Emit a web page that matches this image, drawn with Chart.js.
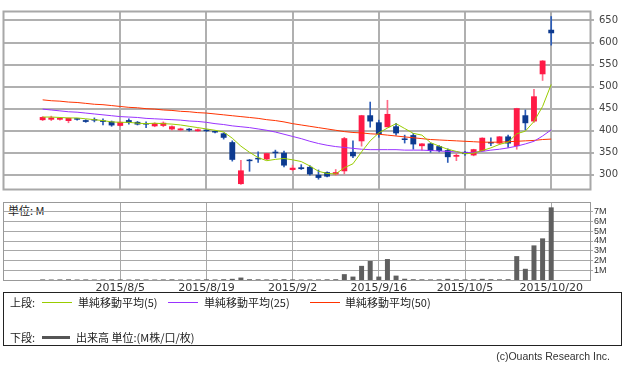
<!DOCTYPE html>
<html lang="ja">
<head>
<meta charset="utf-8">
<title>株価チャート</title>
<script src="https://cdn.jsdelivr.net/npm/chart.js@4.4.1/dist/chart.umd.min.js"></script>
<style>
  body { margin: 0; width: 630px; height: 366px; background: #fff; position: relative; overflow: hidden;
         font-family: "Noto Sans CJK JP", sans-serif; color: #222; }
  canvas { position: absolute; left: 0; }
  #price { top: 0; }
  #volume { top: 195px; }
  .t { position: absolute; font-size: 11px; line-height: 12px; white-space: nowrap; }
  .ln { position: absolute; height: 1px; }
  .box { position: absolute; left: 3px; top: 292px; width: 619px; height: 54px; border: 1px solid #222; box-sizing: border-box; }
  .copy { position: absolute; right: 20px; top: 350px; font: 10.5px "Liberation Sans", sans-serif; color: #333; }
</style>
</head>
<body>
<div class="t" style="left:8px;top:204px;">単位: M</div>
<canvas id="price" width="630" height="200"></canvas>
<canvas id="volume" width="630" height="100"></canvas>

<div class="box"></div>
<div class="t" style="left:10px;top:296px;">上段:</div>
<div class="ln" style="left:42px;top:302px;width:30px;background:#99cc00;"></div>
<div class="t" style="left:78px;top:296px;">単純移動平均(5)</div>
<div class="ln" style="left:168px;top:302px;width:30px;background:#9933ff;"></div>
<div class="t" style="left:204px;top:296px;">単純移動平均(25)</div>
<div class="ln" style="left:310px;top:302px;width:30px;background:#ff3300;"></div>
<div class="t" style="left:345px;top:296px;">単純移動平均(50)</div>
<div class="t" style="left:10px;top:331px;">下段:</div>
<div class="ln" style="left:42px;top:336px;width:28px;height:3px;background:#555;"></div>
<div class="t" style="left:76px;top:331px;">出来高 単位:(M株/口/枚)</div>
<div class="copy">(c)Ouants Research Inc.</div>

<script>
const dates = ['2015/7/23','2015/7/24','2015/7/27','2015/7/28','2015/7/29','2015/7/30','2015/7/31','2015/8/3','2015/8/4','2015/8/5',
  '2015/8/6','2015/8/7','2015/8/10','2015/8/11','2015/8/12','2015/8/13','2015/8/14','2015/8/17','2015/8/18','2015/8/19',
  '2015/8/20','2015/8/21','2015/8/24','2015/8/25','2015/8/26','2015/8/27','2015/8/28','2015/8/31','2015/9/1','2015/9/2',
  '2015/9/3','2015/9/4','2015/9/7','2015/9/8','2015/9/9','2015/9/10','2015/9/11','2015/9/14','2015/9/15','2015/9/16',
  '2015/9/17','2015/9/18','2015/9/24','2015/9/25','2015/9/28','2015/9/29','2015/9/30','2015/10/1','2015/10/2','2015/10/5',
  '2015/10/6','2015/10/7','2015/10/8','2015/10/9','2015/10/13','2015/10/14','2015/10/15','2015/10/16','2015/10/19','2015/10/20'];

const opens  = [424,425,425,422,426,424,426,422,421,411, 424,420,417,410,411,403,401,402,399,401,
                399,394,374,279,334,336,335,352,350,311, 317,318,300,306,301,308,352,376,435,419,
                408,410,381,390,365,371,365,356,341,352, 344,354,374,371,387,365,435,421,528,629];
const highs  = [432,433,430,429,427,425,429,427,422,421, 427,421,420,418,420,411,406,405,404,402,
                400,395,377,333,335,352,349,356,354,322, 323,321,311,307,312,385,377,435,465,424,
                469,417,390,394,371,372,366,359,348,353, 358,384,384,387,390,451,447,494,559,659];
const lows   = [423,423,424,418,424,419,420,413,410,410, 415,413,407,409,409,401,400,399,398,398,
                395,381,331,278,308,328,334,339,318,309, 312,299,290,295,299,302,339,365,408,385,
                408,390,372,358,356,351,352,328,332,344, 343,353,366,369,362,358,402,419,514,594];
const closes = [431,430,429,429,425,420,423,420,412,420, 418,414,414,417,418,410,405,401,403,399,
                396,384,334,310,331,335,349,349,321,316, 313,301,293,296,306,383,342,435,421,392,
                438,394,379,369,371,354,354,340,345,347, 358,384,371,387,371,451,417,478,559,621];

const ma5  = [431,431,430,429,429,427,425,423,420,419, 419,417,416,417,416,415,413,410,407,404,
              401,397,383,365,351,339,332,335,337,334, 330,320,308,303,302,316,325,352,377,395,
              406,416,405,394,390,373,365,358,353,348, 349,355,361,369,374,393,399,421,455,505];
const ma25 = [449,447,445,443,442,440,438,436,434,432, 431,430,428,427,426,425,424,422,421,419,
              416,414,411,409,407,404,401,397,392,387, 382,376,371,367,364,362,360,358,357,357,
              357,357,356,356,356,355,354,353,352,350, 351,353,356,358,361,365,370,376,388,402];
const ma50 = [470,468,467,465,464,462,460,459,457,455, 453,452,450,449,447,446,444,443,441,440,
              438,436,434,432,430,428,425,423,420,416, 413,410,407,404,401,398,396,395,393,392,
              390,388,386,384,382,380,379,378,377,376, 375,374,374,374,375,376,377,378,380,381];

// 出来高 (百万)
const volume = [0.06,0.05,0.06,0.07,0.05,0.06,0.05,0.06,0.07,0.06, 0.05,0.06,0.06,0.05,0.06,0.07,0.05,0.06,0.06,0.07,
                0.06,0.08,0.12,0.25,0.08,0.07,0.06,0.07,0.08,0.06, 0.05,0.06,0.06,0.07,0.08,0.60,0.35,1.45,1.95,0.35,
                2.15,0.45,0.13,0.08,0.07,0.06,0.07,0.12,0.07,0.06, 0.07,0.12,0.08,0.07,0.08,2.45,1.15,3.55,4.27,7.45];

const tickLabels = ['2015/8/5','2015/8/19','2015/9/2','2015/9/16','2015/10/5','2015/10/20'];
const priceTicks = [300,350,400,450,500,550,600,650];
const volTicks = [1,2,3,4,5,6,7];

const tickIdx = tickLabels.map(t => dates.indexOf(t));
const isUp = closes.map((c, i) => c >= opens[i]);
const pts = arr => arr.map((v, i) => ({ x: i, y: v }));

const frame = {
  id: 'frame',
  afterDraw(chart, args, opts) {
    const { ctx, chartArea: a } = chart;
    ctx.save();
    ctx.strokeStyle = opts.color;
    ctx.lineWidth = opts.width;
    ctx.strokeRect(Math.round(a.left) + 0.5, Math.round(a.top) + 0.5, Math.round(a.right - a.left), Math.round(a.bottom - a.top));
    ctx.restore();
  }
};

const xAxis = (showLabels) => ({
  type: 'linear',
  min: -4.6,
  max: 63.5,
  offset: false,
  afterBuildTicks: ax => { ax.ticks = tickIdx.map(v => ({ value: v })); },
  grid: { offset: false, drawTicks: false, color: showLabels ? '#a8a8a8' : '#b0b0b0', lineWidth: showLabels ? 1 : 2 },
  border: { display: false },
  ticks: {
    display: showLabels,
    autoSkip: false,
    maxRotation: 0,
    padding: 2,
    color: '#333',
    font: { family: 'DejaVu Sans', size: 11 },
    callback: v => dates[v]
  },
  afterFit: s => { s.height = showLabels ? 15 : 0; }
});

Chart.defaults.animation = false;
Chart.defaults.events = [];

new Chart(document.getElementById('price'), {
  type: 'bar',
  data: {
    datasets: [
      { type: 'line', data: pts(ma5),  borderColor: '#99cc00', borderWidth: 1, pointRadius: 0, tension: 0, order: 0 },
      { type: 'line', data: pts(ma25), borderColor: '#9933ff', borderWidth: 1, pointRadius: 0, tension: 0, order: 0 },
      { type: 'line', data: pts(ma50), borderColor: '#ff3300', borderWidth: 1, pointRadius: 0, tension: 0, order: 0 },
      {
        data: dates.map((d, i) => ({ x: i, y: [opens[i], closes[i]] })),
        backgroundColor: isUp.map(u => u ? '#ff1a46' : '#0d3a8f'),
        borderWidth: 0, grouped: false, categoryPercentage: 1, barPercentage: 0.68, minBarLength: 1.5, order: 1
      },
      {
        data: dates.map((d, i) => ({ x: i, y: [lows[i], highs[i]] })),
        backgroundColor: isUp.map(u => u ? '#ff6a86' : '#2b5cb8'),
        borderWidth: 0, grouped: false, categoryPercentage: 1, barPercentage: 1, maxBarThickness: 1, order: 2
      }
    ]
  },
  options: {
    responsive: false,
    devicePixelRatio: 1,
    layout: { padding: { left: 3, top: 4, right: 0, bottom: 8 } },
    plugins: { legend: { display: false }, tooltip: { enabled: false }, frame: { color: '#a8a8a8', width: 2 } },
    scales: {
      x: xAxis(false),
      y: {
        position: 'right',
        min: 267.8,
        max: 671.5,
        afterBuildTicks: ax => { ax.ticks = priceTicks.map(v => ({ value: v })); },
        grid: { color: '#b0b0b0', lineWidth: 2, tickLength: 4 },
        border: { display: false },
        ticks: { padding: 5, color: '#444', font: { family: 'DejaVu Sans', size: 10 } },
        afterFit: s => { s.width = 40; }
      }
    }
  },
  plugins: [frame]
});

new Chart(document.getElementById('volume'), {
  type: 'bar',
  data: {
    datasets: [{
      data: pts(volume),
      backgroundColor: '#5f5f5f',
      borderWidth: 0, grouped: false, categoryPercentage: 1, barPercentage: 0.58
    }]
  },
  options: {
    responsive: false,
    devicePixelRatio: 1,
    layout: { padding: { left: 3, top: 7, right: 0, bottom: 0 } },
    plugins: { legend: { display: false }, tooltip: { enabled: false }, frame: { color: '#999', width: 1 } },
    scales: {
      x: xAxis(true),
      y: {
        position: 'right',
        min: 0,
        max: 8,
        afterBuildTicks: ax => { ax.ticks = volTicks.map(v => ({ value: v })); },
        grid: { color: '#a8a8a8', lineWidth: 1, tickLength: 3 },
        border: { display: false },
        ticks: { autoSkip: false, padding: 1, color: '#333', font: { family: 'Liberation Sans', size: 9, lineHeight: 1 }, callback: v => v + 'M' },
        afterFit: s => { s.width = 40; }
      }
    }
  },
  plugins: [frame]
});
</script>
</body>
</html>
